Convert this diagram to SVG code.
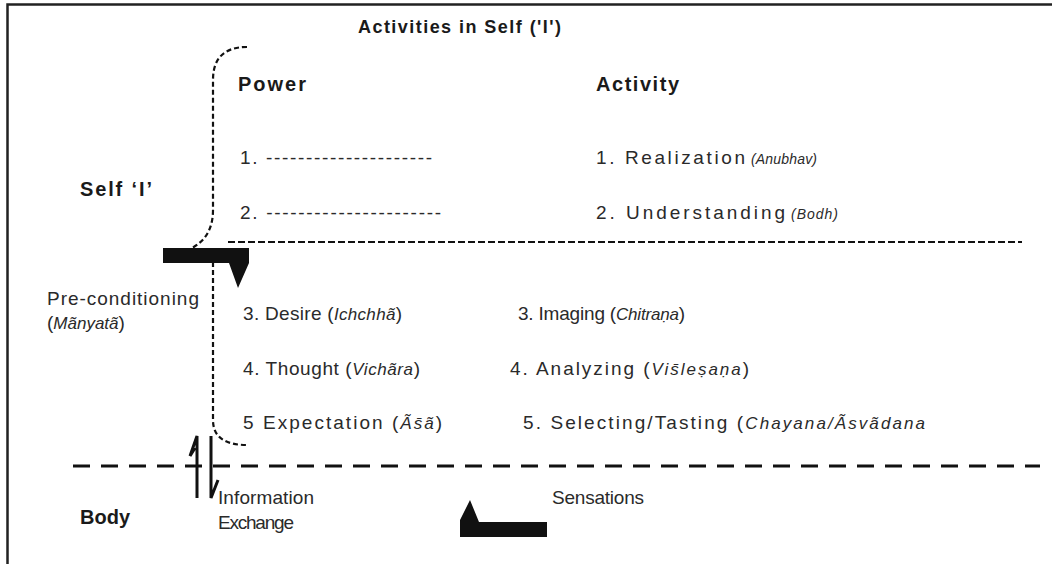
<svg xmlns="http://www.w3.org/2000/svg" width="1052" height="564" viewBox="0 0 1052 564">
<style>
text{font-family:"Liberation Sans",Arial,sans-serif;fill:#2a2a2a}
.b{font-weight:bold;font-size:20px;fill:#1a1a1a}
.r{font-size:19px}
.i{font-style:italic;font-size:14px}
.ii{font-style:italic;font-size:17px}
.dot{fill:none;stroke:#111;stroke-width:2.2;stroke-dasharray:5 3}
.dash{fill:none;stroke:#111;stroke-width:3;stroke-dasharray:17 11}
.solid{fill:#111;stroke:none}
</style>
<rect width="1052" height="564" fill="#fff"/>
<g id="frame">
<path d="M1052 4.5 H7.5 V564" fill="none" stroke="#222" stroke-width="2.5"/>
</g>
<g id="title"><text class="b" x="358" y="33" style="font-size:18px" textLength="203" lengthAdjust="spacing">Activities in Self ('I')</text></g>
<g id="headers">
<text class="b" x="238" y="91" textLength="68" lengthAdjust="spacing">Power</text>
<text class="b" x="596" y="91" textLength="83" lengthAdjust="spacing">Activity</text>
</g>
<g id="self-label"><text class="b" x="80" y="196" textLength="72" lengthAdjust="spacing">Self ‘I’</text></g>
<g id="powers">
<text class="r" x="240" y="164" textLength="192" lengthAdjust="spacing">1. ---------------------</text>
<text class="r" x="240" y="219" textLength="201" lengthAdjust="spacing">2. ----------------------</text>
<text class="r" x="243" y="320" textLength="159" lengthAdjust="spacing">3. Desire  (<tspan class="ii">Ichchhã</tspan>)</text>
<text class="r" x="243" y="375" textLength="177" lengthAdjust="spacing">4. Thought  (<tspan class="ii">Vichãra</tspan>)</text>
<text class="r" x="243" y="429" textLength="199" lengthAdjust="spacing">5  Expectation (<tspan class="ii">Ãs̄ã</tspan>)</text>
</g>
<g id="activities">
<text class="r" x="596" y="164" textLength="149" lengthAdjust="spacing">1.  Realization</text>
<text class="i" x="751" y="164" textLength="66" lengthAdjust="spacing">(Anubhav)</text>
<text class="r" x="596" y="219" textLength="189" lengthAdjust="spacing">2.  Understanding</text>
<text class="i" x="791" y="219" textLength="47" lengthAdjust="spacing">(Bodh)</text>
<text class="r" x="518" y="320" textLength="167" lengthAdjust="spacing">3. Imaging  (<tspan class="ii">Chitraṇa</tspan>)</text>
<text class="r" x="510" y="375" textLength="239" lengthAdjust="spacing">4. Analyzing  (<tspan class="ii">Vis̄leṣaṇa</tspan>)</text>
<text class="r" x="523" y="429" textLength="402" lengthAdjust="spacing">5. Selecting/Tasting  (<tspan class="ii">Chayana/Ãsvãdana</tspan></text>
</g>
<g id="preconditioning">
<text class="r" x="47" y="305" textLength="152" lengthAdjust="spacing">Pre-conditioning</text>
<text class="r" x="47" y="329">(<tspan class="ii">Mãnyatã</tspan>)</text>
</g>
<g id="body-label"><text class="b" x="80" y="524">Body</text></g>
<g id="info-exchange">
<text class="r" x="218" y="504" textLength="96" lengthAdjust="spacing">Information</text>
<text class="r" x="218" y="529" textLength="76" lengthAdjust="spacing">Exchange</text>
</g>
<g id="sensations">
<text class="r" x="552" y="504" textLength="92" lengthAdjust="spacing">Sensations</text>
<polygon class="solid" points="460,537 460,520 470,500 479,522 547,522 547,537"/>
</g>
<g id="connectors">
<path class="dot" d="M247 47 Q213 47 213 80 V210 Q213 238 190 249"/>
<path class="dot" d="M213 262 V420 Q213 445 247 445"/>
<path d="M228 242 H1022" fill="none" stroke="#111" stroke-width="2" stroke-dasharray="7 3"/>
<path class="dash" d="M73 466 H1040"/>
<polygon class="solid" points="163,248 249,248 249,263 238,288 229,263 163,263"/>
<path d="M197 498 V436 L190 456 L195 448" fill="none" stroke="#111" stroke-width="3"/>
<path d="M211 436 V498 L218 480" fill="none" stroke="#111" stroke-width="3"/>
</g>
</svg>
